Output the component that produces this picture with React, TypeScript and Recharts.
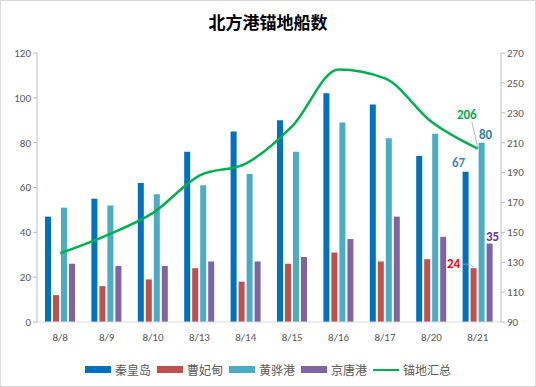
import React from 'react';
import { ComposedChart, Bar, Line, XAxis, YAxis, Legend, LabelList } from 'recharts';

const dates = ['8/8', '8/9', '8/10', '8/13', '8/14', '8/15', '8/16', '8/17', '8/20', '8/21'];
const qinhuangdao = [47, 55, 62, 76, 85, 90, 102, 97, 74, 67];
const caofeidian = [12, 16, 19, 24, 18, 26, 31, 27, 28, 24];
const huanghua = [51, 52, 57, 61, 66, 76, 89, 82, 84, 80];
const jingtang = [26, 25, 25, 27, 27, 29, 37, 47, 38, 35];
const total = [136, 148, 163, 188, 196, 221, 259, 253, 224, 206];

const leftTicks = [0, 20, 40, 60, 80, 100, 120];
const rightTicks = [90, 110, 130, 150, 170, 190, 210, 230, 250, 270];

const series = [
  { key: 'qhd', name: '秦皇岛', color: '#0070C0' },
  { key: 'cfd', name: '曹妃甸', color: '#C0504D' },
  { key: 'hhg', name: '黄骅港', color: '#4BACC6' },
  { key: 'jtg', name: '京唐港', color: '#8064A2' },
];
const lineColor = '#00B050';

const data = dates.map((d, i) => ({
  date: d,
  qhd: qinhuangdao[i],
  cfd: caofeidian[i],
  hhg: huanghua[i],
  jtg: jingtang[i],
  total: total[i],
}));

const last = dates.length - 1;
const labelFont = { fontSize: 13, fontWeight: 700, fontFamily: 'Calibri, "Liberation Sans", Arial, sans-serif' };
const tickFont = { fontSize: 11, fill: '#595959', fontFamily: 'Calibri, "Liberation Sans", sans-serif' };

// labels only on the last category, each nudged like the original
const makeLabel = (color: string, dx: number, dy: number, leader?: boolean) => (props: any) => {
  const { x, y, width, value, index } = props;
  if (index !== last) return null;
  const cx = x + (width || 0) / 2;
  return (
    <g>
      {leader && (
        <polyline
          points={`${cx + dx + 8},${y + dy - 4} ${cx - 3},${y + dy - 4} ${cx},${y}`}
          fill="none"
          stroke="#a6a6a6"
          strokeWidth={0.8}
        />
      )}
      <text x={cx + dx} y={y + dy} fill={color} textAnchor="middle" {...labelFont}>
        {value}
      </text>
    </g>
  );
};

const totalLabel = (props: any) => {
  const { x, y, value, index } = props;
  if (index !== last) return null;
  return (
    <g>
      <line x1={x - 6} y1={y - 27} x2={x} y2={y - 1} stroke="#a6a6a6" strokeWidth={0.8} />
      <text x={x - 11} y={y - 30} fill={lineColor} textAnchor="middle" {...labelFont}>
        {value}
      </text>
    </g>
  );
};

const renderLegend = () => (
  <div style={{ display: 'flex', justifyContent: 'center', alignItems: 'center', fontSize: 12, color: '#595959' }}>
    {series.map((s) => (
      <span key={s.key} style={{ display: 'flex', alignItems: 'center', marginRight: 6 }}>
        <span style={{ display: 'inline-block', width: 26, height: 7, background: s.color, marginRight: 4 }} />
        {s.name}
      </span>
    ))}
    <span style={{ display: 'flex', alignItems: 'center' }}>
      <span style={{ display: 'inline-block', width: 26, height: 2, background: lineColor, marginRight: 4 }} />
      锚地汇总
    </span>
  </div>
);

export default function App() {
  const font = '"Noto Sans CJK SC", "Microsoft YaHei", sans-serif';
  return (
    <div
      style={{
        position: 'absolute',
        left: 0,
        top: 0,
        width: 536,
        height: 387,
        boxSizing: 'border-box',
        border: '1px solid #d9d9d9',
        background: '#fff',
        fontFamily: font,
      }}
    >
      <div
        style={{
          position: 'absolute',
          top: 8,
          width: '100%',
          textAlign: 'center',
          fontSize: 17,
          fontWeight: 700,
          color: '#000',
        }}
      >
        北方港锚地船数
      </div>
      <ComposedChart
        width={534}
        height={385}
        data={data}
        margin={{ top: 52, right: 0, left: 0, bottom: 21 }}
        barSize={6}
        barGap={2}
        barCategoryGap="18%"
        style={{ position: 'absolute', left: 0, top: 0 }}
      >
        <XAxis
          dataKey="date"
          tickLine={false}
          axisLine={{ stroke: '#d9d9d9' }}
          tick={tickFont}
          height={26}
          tickMargin={5}
        />
        <YAxis
          yAxisId="left"
          domain={[0, 120]}
          ticks={leftTicks}
          width={36}
          interval={0}
          axisLine={{ stroke: '#bfbfbf' }}
          tickLine={{ stroke: '#bfbfbf' }}
          tickSize={4}
          tick={tickFont}
        />
        <YAxis
          yAxisId="right"
          orientation="right"
          domain={[90, 270]}
          ticks={rightTicks}
          width={34}
          interval={0}
          axisLine={{ stroke: '#bfbfbf' }}
          tickLine={{ stroke: '#bfbfbf' }}
          tickSize={4}
          tick={tickFont}
        />
        <Legend verticalAlign="bottom" content={renderLegend} wrapperStyle={{ bottom: 8 }} />
        <Bar yAxisId="left" dataKey="qhd" name="秦皇岛" fill={series[0].color} isAnimationActive={false}>
          <LabelList dataKey="qhd" content={makeLabel('#4F81BD', -7, -5)} />
        </Bar>
        <Bar yAxisId="left" dataKey="cfd" name="曹妃甸" fill={series[1].color} isAnimationActive={false}>
          <LabelList dataKey="cfd" content={makeLabel('#FF0000', -20, 0, true)} />
        </Bar>
        <Bar yAxisId="left" dataKey="hhg" name="黄骅港" fill={series[2].color} isAnimationActive={false}>
          <LabelList dataKey="hhg" content={makeLabel('#31859C', 4, -4)} />
        </Bar>
        <Bar yAxisId="left" dataKey="jtg" name="京唐港" fill={series[3].color} isAnimationActive={false}>
          <LabelList dataKey="jtg" content={makeLabel('#7030A0', 3, -3)} />
        </Bar>
        <Line
          yAxisId="right"
          type="monotone"
          dataKey="total"
          name="锚地汇总"
          stroke={lineColor}
          strokeWidth={2.5}
          dot={false}
          isAnimationActive={false}
        >
          <LabelList dataKey="total" content={totalLabel} />
        </Line>
      </ComposedChart>
    </div>
  );
}
